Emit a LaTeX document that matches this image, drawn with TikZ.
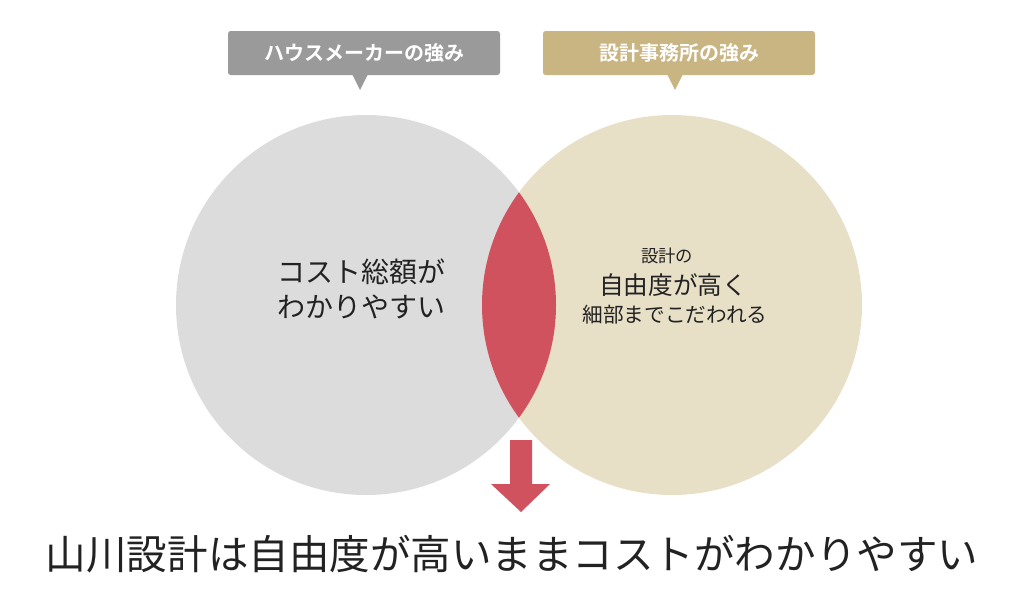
\documentclass[tikz,border=0pt]{standalone}
\usepackage{fontspec}
\newfontfamily\jp{Noto Sans CJK JP}
\newfontfamily\jpb{Noto Sans CJK JP Bold}
\definecolor{cgray}{HTML}{DCDCDC}
\definecolor{ctan}{HTML}{E8DFC7}
\definecolor{cred}{HTML}{D0525E}
\definecolor{lgray}{HTML}{9A9A9A}
\definecolor{ltan}{HTML}{C9B582}
\definecolor{ink}{HTML}{222222}
\tikzset{lbl/.style={minimum width=204pt,minimum height=33pt,inner sep=0pt,rounded corners=2pt,text=white,font=\jpb\fontsize{15}{18}\selectfont},
ctext/.style={text=ink,align=center,inner sep=0pt}}
\begin{document}
\begin{tikzpicture}[x=0.75pt,y=-0.75pt]
\useasboundingbox (0,0) rectangle (1024,597);
\fill[cgray] (366,305) circle[radius=190];
\fill[ctan] (672,305) circle[radius=190];
\begin{scope}
\clip (366,305) circle[radius=190];
\fill[cred] (672,305) circle[radius=190];
\end{scope}
\node[lbl,fill=lgray] (lab1) at (364,53) {ハウスメーカーの強み};
\fill[lgray] (352,74) -- (368,74) -- (360,90) -- cycle;
\node[lbl,fill=ltan] (lab2) at (679,53) {設計事務所の強み};
\fill[ltan] (667,74) -- (683,74) -- (675,90) -- cycle;
\node[ctext,font=\jp\fontsize{21}{26}\selectfont] (lt) at (361,289) {コスト総額が\\わかりやすい};
\node[ctext,font=\jp\fontsize{13}{16}\selectfont] (r1) at (667,256) {設計の};
\node[ctext,font=\jp\fontsize{18.5}{22}\selectfont] (r2) at (673,285) {自由度が高く};
\node[ctext,font=\jp\fontsize{15.5}{18}\selectfont] (r3) at (675,315) {細部までこだわれる};
\fill[cred] (510,440) -- (532,440) -- (532,484) -- (550,484) -- (521,512) -- (491,484) -- (510,484) -- cycle;
\node[ctext,font=\jp\fontsize{30.4}{34}\selectfont] (bt) at (512,554) {山川設計は自由度が高いままコストがわかりやすい};
\end{tikzpicture}
\end{document}
